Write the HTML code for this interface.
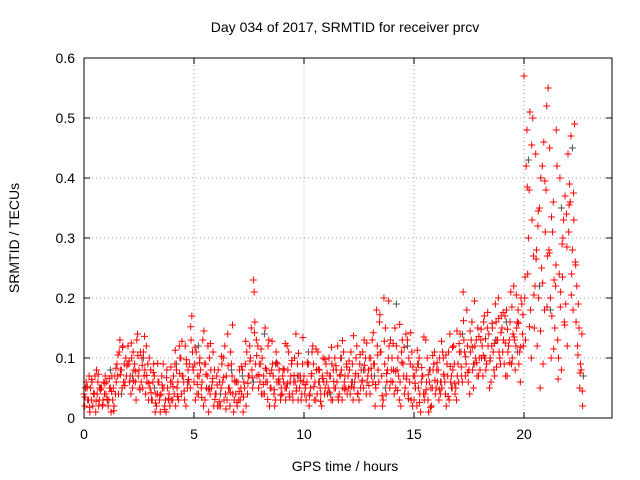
<!DOCTYPE html>
<html><head><meta charset="utf-8"><style>
body{margin:0;background:#fff;}
svg{display:block;font-family:"Liberation Sans",sans-serif;}
</style></head><body>
<svg id="chart" width="640" height="480" viewBox="0 0 640 480" xmlns="http://www.w3.org/2000/svg">
<rect width="640" height="480" fill="#fff"/>
<text x="345" y="32" font-size="14" text-anchor="middle">Day 034 of 2017, SRMTID for receiver prcv</text>
<text transform="translate(19,238) rotate(-90)" font-size="14" text-anchor="middle">SRMTID / TECUs</text>
<text x="345" y="471" font-size="14" text-anchor="middle">GPS time / hours</text>
<g id="grid"></g><g id="ticks"></g><g id="marks"></g>
<rect x="84" y="58" width="528" height="360" fill="none" stroke="#000" stroke-width="1"/>
</svg>
<script>
const xTicks=[0,5,10,15,20];
const yTicks=[0,0.1,0.2,0.3,0.4,0.5,0.6];
const yTickLabels=["0","0.1","0.2","0.3","0.4","0.5","0.6"];
const startHour=0, stepHours=0.1;
const srmtidA=[.04,.06,.03,.05,.02,.07,.04,.03,.05,.06,.04,.02,.05,.03,.07,.09,.11,.08,.06,.10,.12,.07,.05,.09,.13,.08,.06,.11,.04,.09,.05,.03,.07,.02,.06,.04,.09,.03,.05,.02,.06,.04,.08,.03,.10,.07,.12,.05,.09,.17,.06,.11,.04,.08,.13,.03,.07,.10,.05,.02,.04,.08,.02,.06,.12,.03,.05,.09,.01,.04,.06,.03,.08,.05,.11,.07,.15,.23,.09,.12,.06,.10,.04,.08,.13,.05,.07,.03,.09,.06,.04,.08,.05,.11,.07,.03,.06,.09,.05,.04,.07,.03,.09,.05,.12,.06,.04,.08,.02,.06,.09,.05,.07,.03,.10,.06,.04,.08,.11,.05,.07,.04,.09,.06,.12,.03,.08,.05,.10,.07,.04,.13,.09,.18,.06,.11,.03,.15,.08,.05,.10,.04,.12,.07,.02,.09,.05,.13,.06,.11,.03,.08,.05,.01,.07,.04,.10,.06,.02,.09,.05,.08,.04,.11,.06,.09,.03,.07,.12,.05,.09,.14,.06,.11,.18,.08,.13,.05,.10,.15,.08,.12,.17,.09,.14,.06,.11,.19,.13,.10,.15,.09,.18,.12,.21,.14,.08,.16,.11,.19,.57,.42,.30,.18,.50,.22,.12,.35,.25,.46,.38,.55,.20,.31,.15,.42,.24,.08,.33,.19,.44,.36,.28,.49,.22,.15,.08];
const srmtidB=[.02,.05,.07,.03,.04,.01,.06,.05,.02,.04,.06,.03,.01,.05,.04,.07,.13,.05,.09,.07,.09,.04,.11,.06,.14,.05,.10,.07,.12,.03,.08,.06,.01,.04,.03,.07,.05,.01,.03,.06,.03,.09,.05,.12,.04,.06,.02,.08,.05,.11,.09,.04,.07,.05,.02,.09,.12,.04,.06,.08,.07,.02,.05,.10,.04,.14,.02,.07,.03,.06,.03,.05,.01,.09,.04,.12,.08,.21,.13,.05,.09,.04,.15,.06,.02,.08,.04,.11,.06,.03,.07,.05,.12,.04,.09,.06,.14,.03,.07,.09,.04,.06,.02,.07,.09,.03,.11,.05,.07,.04,.06,.10,.03,.08,.05,.12,.07,.03,.06,.09,.05,.11,.03,.07,.04,.09,.06,.13,.04,.08,.10,.06,.02,.12,.16,.07,.20,.04,.10,.13,.06,.15,.08,.03,.11,.07,.14,.04,.09,.02,.07,.02,.10,.06,.04,.13,.03,.08,.05,.11,.08,.03,.06,.10,.04,.07,.14,.05,.09,.03,.06,.11,.21,.07,.12,.04,.16,.09,.13,.07,.13,.07,.10,.15,.05,.12,.08,.16,.20,.09,.11,.17,.07,.13,.09,.22,.12,.18,.06,.14,.20,.48,.38,.10,.27,.44,.32,.05,.42,.18,.52,.28,.10,.36,.22,.13,.40,.29,.16,.34,.31,.47,.18,.26,.12,.05,.14];
const srmtidC=[.05,.03,.01,.06,.04,.08,.02,.05,.03,.07,.03,.05,.07,.02,.06,.04,.08,.12,.06,.09,.06,.10,.08,.03,.07,.11,.05,.08,.06,.10,.03,.09,.04,.06,.01,.05,.02,.08,.04,.03,.07,.02,.06,.10,.07,.03,.09,.06,.13,.08,.03,.07,.10,.06,.09,.05,.01,.08,.11,.04,.02,.06,.09,.03,.07,.05,.11,.04,.06,.02,.08,.04,.06,.02,.07,.10,.05,.16,.07,.09,.04,.07,.06,.12,.05,.09,.02,.06,.08,.05,.06,.03,.08,.06,.04,.10,.05,.07,.03,.06,.05,.09,.04,.11,.03,.08,.06,.04,.10,.05,.04,.07,.09,.05,.08,.03,.10,.05,.07,.04,.08,.06,.05,.10,.07,.05,.11,.08,.06,.10,.07,.09,.05,.08,.11,.02,.09,.06,.12,.08,.08,.05,.10,.06,.13,.04,.07,.10,.03,.07,.05,.09,.04,.07,.03,.06,.01,.05,.08,.04,.06,.10,.05,.07,.02,.11,.06,.08,.04,.07,.11,.07,.13,.09,.06,.11,.08,.12,.07,.10,.10,.16,.08,.12,.10,.15,.07,.13,.11,.17,.13,.07,.11,.16,.10,.13,.15,.09,.20,.12,.13,.24,.51,.33,.15,.28,.20,.40,.09,.31,.27,.45,.17,.23,.48,.10,.21,.30,.37,.12,.39,.24,.33,.16,.19,.09,.02];
const srmtidD=[.035,.052,.018,.064,.041,.028,.073,.047,.022,.058,.031,.066,.044,.012,.083,.105,.072,.118,.054,.087,.095,.125,.062,.078,.104,.047,.088,.136,.071,.058,.042,.076,.025,.091,.038,.055,.014,.067,.032,.085,.052,.113,.036,.074,.128,.045,.097,.064,.152,.085,.118,.056,.092,.034,.145,.073,.048,.124,.066,.031,.055,.027,.103,.068,.015,.087,.043,.155,.062,.026,.044,.086,.035,.128,.058,.095,.067,.142,.104,.072,.115,.056,.083,.031,.074,.128,.047,.092,.065,.038,.082,.124,.057,.035,.096,.071,.045,.108,.062,.134,.056,.093,.037,.074,.052,.115,.081,.028,.066,.098,.075,.043,.118,.061,.087,.035,.072,.129,.048,.085,.095,.052,.137,.074,.041,.106,.063,.088,.125,.054,.083,.142,.056,.105,.172,.037,.128,.074,.195,.061,.124,.078,.046,.156,.093,.118,.065,.032,.142,.085,.058,.113,.026,.084,.135,.047,.072,.018,.104,.063,.092,.047,.128,.073,.105,.036,.086,.118,.057,.145,.124,.085,.162,.102,.076,.145,.118,.195,.092,.136,.148,.104,.132,.176,.095,.158,.124,.085,.166,.142,.176,.125,.148,.092,.185,.135,.205,.158,.118,.172,.235,.385,.152,.455,.205,.265,.345,.145,.225,.395,.185,.275,.335,.115,.255,.065,.185,.235,.155,.285,.355,.205,.375,.255,.105,.075,.045];
const grayStep=0.5;
const srmtidGray=[.03,.05,.08,.04,.07,.10,.05,.03,.09,.06,.12,.05,.04,.08,.07,.06,.14,.09,.05,.07,.11,.06,.04,.10,.06,.08,.07,.05,.19,.12,.09,.08,.06,.05,.14,.09,.10,.13,.16,.11,.43,.22,.18,.35,.45,.07];
const X0=84,X1=612,Y0=418,Y1=58,XMAX=24,YMAX=0.6;
function sx(v){return X0+(X1-X0)*v/XMAX;}
function sy(v){return Y0-(Y0-Y1)*v/YMAX;}
const NS="http://www.w3.org/2000/svg";
const grid=document.getElementById('grid'),ticks=document.getElementById('ticks'),marks=document.getElementById('marks');
function mk(tag,attrs,parent){const e=document.createElementNS(NS,tag);for(const k in attrs)e.setAttribute(k,attrs[k]);parent.appendChild(e);return e;}
xTicks.forEach(v=>{
  const x=sx(v);
  if(v>0){const g=mk('line',{x1:x,y1:Y0,x2:x,y2:Y1,stroke:'#a0a0a0','stroke-dasharray':'1,3'},grid);
  
  }
  mk('line',{x1:x,y1:Y0,x2:x,y2:Y0-6,stroke:'#000'},ticks);
  mk('line',{x1:x,y1:Y1,x2:x,y2:Y1+6,stroke:'#000'},ticks);
  const t=mk('text',{x:x,y:Y0+21,'font-size':14,'text-anchor':'middle'},ticks);t.textContent=v;
  
  
});
yTicks.forEach((v,i)=>{
  const y=sy(v);
  if(v>0&&v<YMAX){const g=mk('line',{x1:X0,y1:y,x2:X1,y2:y,stroke:'#a0a0a0','stroke-dasharray':'1,3'},grid);
  
  }
  mk('line',{x1:X0,y1:y,x2:X0+6,y2:y,stroke:'#000'},ticks);
  mk('line',{x1:X1,y1:y,x2:X1-6,y2:y,stroke:'#000'},ticks);
  const t=mk('text',{x:X0-9,y:y+5,'font-size':14,'text-anchor':'end'},ticks);t.textContent=yTickLabels[i];
  
  
});
function plus(t,v,color){
  const x=sx(t),y=sy(v);
  const p=mk('path',{d:`M${x-3.5},${y}H${x+3.5}M${x},${y-3.5}V${y+3.5}`,stroke:color,'stroke-width':1,fill:'none'},marks);
  
  
}
srmtidGray.forEach((v,i)=>plus(startHour+i*grayStep+0.2,v,'#505050'));
[[srmtidA,0],[srmtidB,0.033],[srmtidD,0.05],[srmtidC,0.066]].forEach(([arr,off])=>arr.forEach((v,i)=>plus(startHour+i*stepHours+off,v,'#ff0000')));
</script>
</body></html>
